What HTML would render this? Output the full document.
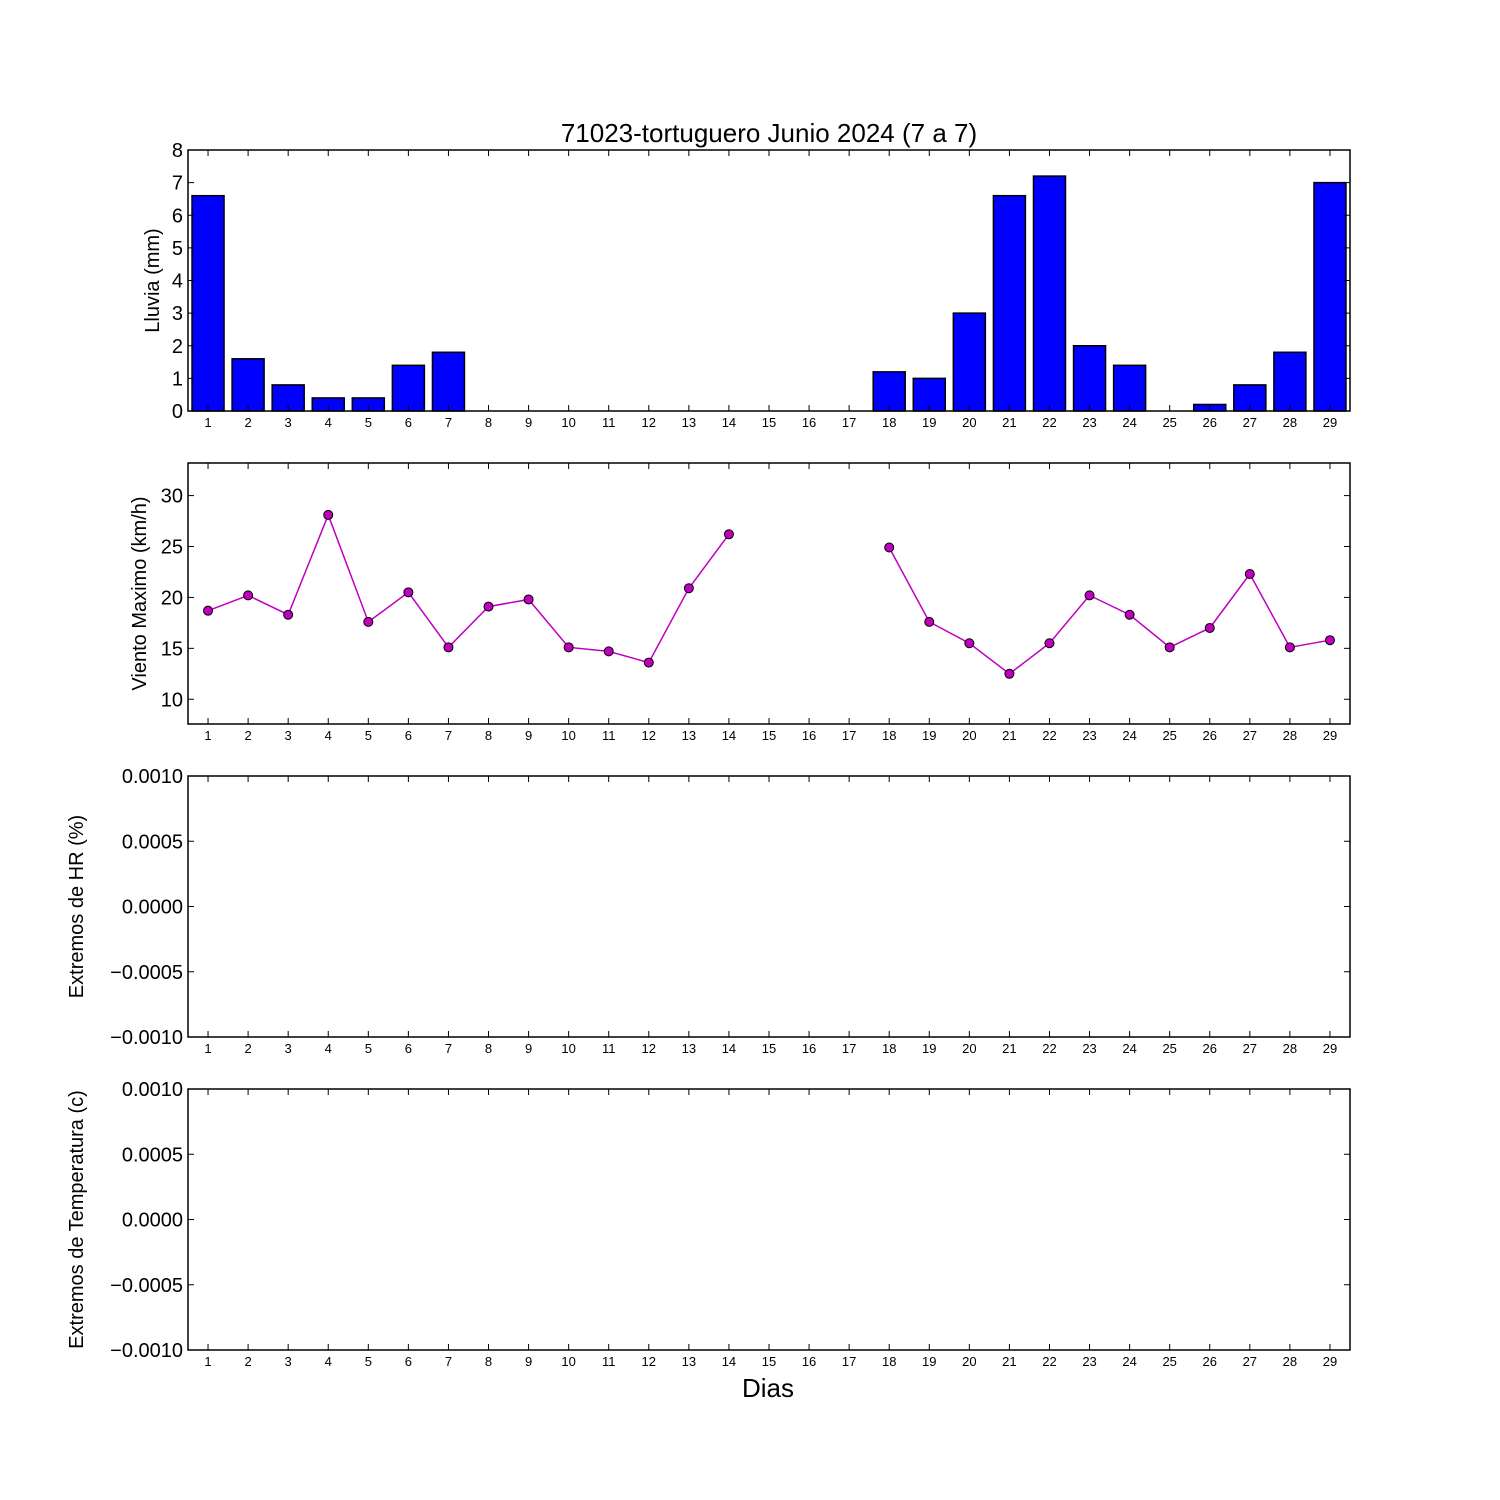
<!DOCTYPE html>
<html><head><meta charset="utf-8"><style>
html,body{margin:0;padding:0;background:#fff;}
svg{display:block;font-family:"Liberation Sans","DejaVu Sans",sans-serif;}
</style></head><body>
<svg id="c" width="1500" height="1500" viewBox="0 0 1500 1500">
<rect width="1500" height="1500" fill="#fff"/>
<text x="769" y="142" font-size="26" text-anchor="middle">71023-tortuguero Junio 2024  (7 a 7)</text>
<text x="768" y="1397" font-size="26" text-anchor="middle">Dias</text>
</svg>
<script>
const days = [1,2,3,4,5,6,7,8,9,10,11,12,13,14,15,16,17,18,19,20,21,22,23,24,25,26,27,28,29];
const rain = [6.6,1.6,0.8,0.4,0.4,1.4,1.8,0,0,0,0,0,0,0,0,0,0,1.2,1.0,3.0,6.6,7.2,2.0,1.4,0,0.2,0.8,1.8,7.0];
const wind = [18.7,20.2,18.3,28.1,17.6,20.5,15.1,19.1,19.8,15.1,14.7,13.6,20.9,26.2,null,null,null,24.9,17.6,15.5,12.5,15.5,20.2,18.3,15.1,17.0,22.3,15.1,15.8];
const rainTicks = [0,1,2,3,4,5,6,7,8];
const windTicks = [10,15,20,25,30];
const emptyTicks = [-0.001,-0.0005,0,0.0005,0.001];
const emptyTickLabels = ["\u22120.0010","\u22120.0005","0.0000","0.0005","0.0010"];

const svg = document.getElementById('c');
const NS = 'http://www.w3.org/2000/svg';
const X0 = 188, X1 = 1350;
const xs = d => X0 + (d - 0.5) / 29 * (X1 - X0);
function mk(tag, attrs, parent){const e=document.createElementNS(NS,tag);for(const k in attrs)e.setAttribute(k,attrs[k]);(parent||svg).appendChild(e);return e;}

const panels = [
  {top:150,bot:411,min:0,max:8,ticks:rainTicks,labels:rainTicks.map(String),ylab:'Lluvia (mm)',name:'rain'},
  {top:463,bot:724,min:7.57,max:33.2,ticks:windTicks,labels:windTicks.map(String),ylab:'Viento Maximo (km/h)',name:'wind'},
  {top:776,bot:1037,min:-0.001,max:0.001,ticks:emptyTicks,labels:emptyTickLabels,ylab:'Extremos de HR (%)',name:'humidity'},
  {top:1089,bot:1350,min:-0.001,max:0.001,ticks:emptyTicks,labels:emptyTickLabels,ylab:'Extremos de Temperatura (c)',name:'temperature'}
];

panels.forEach((p,pi)=>{
  const ys = v => p.bot - (v - p.min)/(p.max - p.min)*(p.bot - p.top);
  p.ys = ys;
  const g = mk('g',{});
  
  
  if(pi===0){
    days.forEach((d,i)=>{
      const y = ys(rain[i]);
      const r = mk('rect',{x:xs(d)-16,y:y,width:32,height:Math.max(0,p.bot-y),fill:'#0000ff',stroke:'#000','stroke-width':1.5},g);
      
      
    });
  }
  if(pi===1){
    let seg=[];
    const segs=[];
    days.forEach((d,i)=>{ if(wind[i]==null){ if(seg.length) segs.push(seg); seg=[]; } else seg.push([xs(d),ys(wind[i])]); });
    if(seg.length) segs.push(seg);
    segs.forEach(s=>{
      const l = mk('polyline',{points:s.map(q=>q.join(',')).join(' '),fill:'none',stroke:'#bf00bf','stroke-width':1.5},g);
      
      
    });
    days.forEach((d,i)=>{
      if(wind[i]==null) return;
      const c = mk('circle',{cx:xs(d),cy:ys(wind[i]),r:4.5,fill:'#bf00bf',stroke:'#000','stroke-width':1},g);
      
      
    });
  }
  const frame = mk('rect',{x:X0,y:p.top,width:X1-X0,height:p.bot-p.top,fill:'none',stroke:'#000','stroke-width':1.5},g);
  
  
  days.forEach(d=>{
    const x=xs(d);
    mk('line',{x1:x,y1:p.bot,x2:x,y2:p.bot-6,stroke:'#000','stroke-width':1},g);
    mk('line',{x1:x,y1:p.top,x2:x,y2:p.top+6,stroke:'#000','stroke-width':1},g);
    const t = mk('text',{x:x,y:p.bot+16,'font-size':13,'text-anchor':'middle'},g);
    t.textContent=d;
    
    
  });
  p.ticks.forEach((v,i)=>{
    const y=ys(v);
    mk('line',{x1:X0,y1:y,x2:X0+6,y2:y,stroke:'#000','stroke-width':1},g);
    mk('line',{x1:X1,y1:y,x2:X1-6,y2:y,stroke:'#000','stroke-width':1},g);
    const t = mk('text',{x:X0-5,y:y+7,'font-size':20,'text-anchor':'end'},g);
    t.textContent=p.labels[i];
    
    
  });
  const cy=(p.top+p.bot)/2;
  const lx = pi===0?159:(pi===1?146:83);
  const yl = mk('text',{x:lx,y:cy,'font-size':20,'text-anchor':'middle',transform:'rotate(-90 '+lx+' '+cy+')'},g);
  yl.textContent=p.ylab;
  
  
});
</script>
</body></html>
